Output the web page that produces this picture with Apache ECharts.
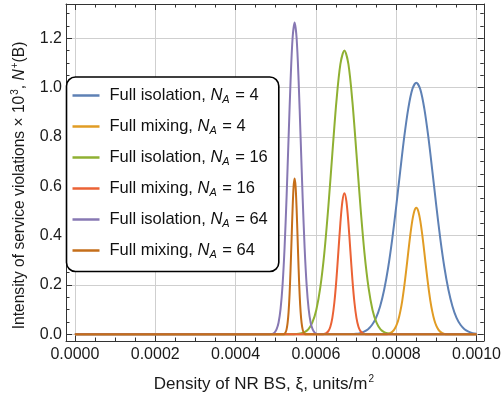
<!DOCTYPE html>
<html><head><meta charset="utf-8">
<script src="https://cdn.jsdelivr.net/npm/echarts@6/dist/echarts.min.js"></script>
<style>html,body{margin:0;padding:0;background:#fff}#c{width:504px;height:399px}</style>
</head><body><div id="c"></div>
<script>
// ---- data ----
const xTickLabels = ['0.0000', '0.0002', '0.0004', '0.0006', '0.0008', '0.0010'];
const yTickLabels = ['0.0', '0.2', '0.4', '0.6', '0.8', '1.0', '1.2'];

const legendModes = ['Full isolation', 'Full mixing', 'Full isolation', 'Full mixing', 'Full isolation', 'Full mixing'];
const legendNA = [4, 4, 16, 16, 64, 64];
const colors = ['#5E81B5', '#E19C24', '#8FB032', '#EB6235', '#8778B3', '#C56E1A'];

// Full isolation, N_A = 4
const iso4X = [0, 0.00069, 0.00070, 0.00071, 0.00072, 0.00073, 0.00074, 0.00075, 0.00076, 0.00077, 0.00078, 0.00079,
  0.00080, 0.00081, 0.00082, 0.00083, 0.00084, 0.00085, 0.00086, 0.00087, 0.00088, 0.00089, 0.00090,
  0.00091, 0.00092, 0.00093, 0.00094, 0.00095, 0.00096, 0.00097, 0.00098, 0.00099, 0.00100];
const iso4Y = [0, 0.001, 0.002, 0.005, 0.011, 0.021, 0.039, 0.068, 0.114, 0.181, 0.271, 0.385,
  0.519, 0.662, 0.800, 0.915, 0.993, 1.020, 0.993, 0.915, 0.800, 0.662, 0.519,
  0.385, 0.271, 0.181, 0.114, 0.068, 0.039, 0.021, 0.011, 0.005, 0.002];

// Full mixing, N_A = 4
const mix4X = [0, 0.000775, 0.00078, 0.000785, 0.00079, 0.000795, 0.00080, 0.000805, 0.00081, 0.000815, 0.00082, 0.000825,
  0.00083, 0.000835, 0.00084, 0.000845, 0.00085, 0.000855, 0.00086, 0.000865, 0.00087, 0.000875,
  0.00088, 0.000885, 0.00089, 0.000895, 0.00090, 0.000905, 0.00091, 0.000915, 0.00092, 0.000925, 0.00100];
const mix4Y = [0, 0, 0.002, 0.005, 0.010, 0.019, 0.034, 0.057, 0.091, 0.136, 0.194, 0.261,
  0.333, 0.402, 0.460, 0.499, 0.513, 0.499, 0.460, 0.402, 0.333, 0.261,
  0.194, 0.136, 0.091, 0.057, 0.034, 0.019, 0.010, 0.005, 0.002, 0, 0];

// Full isolation, N_A = 16
const iso16X = [0, 0.000541, 0.000551, 0.000561, 0.000571, 0.000581, 0.000591, 0.000601, 0.000611, 0.000621, 0.000631,
  0.000641, 0.000651, 0.000661, 0.000671, 0.000681, 0.000691, 0.000701, 0.000711, 0.000721,
  0.000731, 0.000741, 0.000751, 0.000761, 0.000771, 0.000781, 0.000791, 0.000801, 0.00100];
const iso16Y = [0, 0, 0.001, 0.003, 0.008, 0.020, 0.047, 0.099, 0.190, 0.329, 0.517,
  0.733, 0.942, 1.095, 1.151, 1.095, 0.942, 0.733, 0.517, 0.329,
  0.190, 0.099, 0.047, 0.020, 0.008, 0.003, 0.001, 0, 0];

// Full mixing, N_A = 16
const mix16X = [0, 0.000616, 0.000621, 0.000626, 0.000631, 0.000636, 0.000641, 0.000646, 0.000651, 0.000656, 0.000661,
  0.000666, 0.000671, 0.000676, 0.000681, 0.000686, 0.000691, 0.000696, 0.000701, 0.000706,
  0.000711, 0.000716, 0.000721, 0.000726, 0.00100];
const mix16Y = [0, 0, 0.002, 0.005, 0.013, 0.031, 0.067, 0.129, 0.221, 0.335, 0.451,
  0.539, 0.572, 0.539, 0.451, 0.335, 0.221, 0.129, 0.067, 0.031,
  0.013, 0.005, 0.002, 0, 0];

// Full isolation, N_A = 64
const iso64X = [0, 0.000482, 0.000487, 0.000492, 0.000497, 0.000502, 0.000507, 0.000512, 0.000517, 0.000522, 0.000527,
  0.000532, 0.000537, 0.000542, 0.000547, 0.000552, 0.000557, 0.000562, 0.000567, 0.000572,
  0.000577, 0.000582, 0.000587, 0.000592, 0.000597, 0.000602, 0.000607, 0.000612, 0.00100];
const iso64Y = [0, 0, 0.001, 0.002, 0.007, 0.020, 0.047, 0.102, 0.199, 0.350, 0.556,
  0.796, 1.029, 1.201, 1.264, 1.201, 1.029, 0.796, 0.556, 0.350,
  0.199, 0.102, 0.047, 0.020, 0.007, 0.002, 0.001, 0, 0];

// Full mixing, N_A = 64
const mix64X = [0, 0.0005195, 0.000522, 0.0005245, 0.000527, 0.0005295, 0.000532, 0.0005345, 0.000537, 0.0005395, 0.000542,
  0.0005445, 0.000547, 0.0005495, 0.000552, 0.0005545, 0.000557, 0.0005595, 0.000562, 0.0005645,
  0.000567, 0.0005695, 0.000572, 0.0005745, 0.00100];
const mix64Y = [0, 0, 0.003, 0.008, 0.020, 0.045, 0.090, 0.163, 0.266, 0.388, 0.509,
  0.599, 0.632, 0.599, 0.509, 0.388, 0.266, 0.163, 0.090, 0.045,
  0.020, 0.008, 0.003, 0, 0];

const seriesX = [iso4X, mix4X, iso16X, mix16X, iso64X, mix64X];
const seriesY = [iso4Y, mix4Y, iso16Y, mix16Y, iso64Y, mix64Y];

// ---- chart ----
const FONT = '"Liberation Sans", Arial, sans-serif';
const names = legendModes.map((m, i) => m + ', N_A = ' + legendNA[i]);
const frameColor = '#333';
const labelColor = '#1a1a1a';
const gridColor = '#cfcfcf';

function xAxisCfg(pos, main) {
  return {
    type: 'value', position: pos, gridIndex: 0,
    min: -0.0000222, max: 0.001018,
    splitNumber: 5, minInterval: 0.0002, maxInterval: 0.0002,
    axisLine: { show: true, onZero: false, lineStyle: { color: frameColor, width: 1 } },
    axisTick: { show: true, inside: true, length: 6, lineStyle: { color: frameColor, width: 1 } },
    minorTick: { show: true, splitNumber: 4, length: 3.5, lineStyle: { color: frameColor, width: 1 } },
    splitLine: { show: main, lineStyle: { color: gridColor, width: 1 } },
    minorSplitLine: { show: false },
    axisLabel: {
      show: main, margin: 6, showMinLabel: false, showMaxLabel: false,
      color: labelColor, fontSize: 16, fontFamily: FONT,
      formatter: v => { const i = Math.round(v / 0.0002); return xTickLabels[i] || ''; }
    },
    name: main ? 'Density of NR BS, ξ, units/m{sup|2}' : '',
    nameLocation: 'middle', nameGap: 33,
    nameTextStyle: {
      color: labelColor, fontSize: 17, fontFamily: FONT, lineHeight: 20, padding: [0, 22, 0, 0],
      rich: { sup: { fontSize: 10, lineHeight: 20, verticalAlign: 'top', padding: [0, 0, 9, 1], color: labelColor, fontFamily: FONT } }
    }
  };
}
function yAxisCfg(pos, main) {
  return {
    type: 'value', position: pos, gridIndex: 0,
    min: -0.027, max: 1.339,
    splitNumber: 7, minInterval: 0.2, maxInterval: 0.2,
    axisLine: { show: true, onZero: false, lineStyle: { color: frameColor, width: 1 } },
    axisTick: { show: true, inside: true, length: 6, lineStyle: { color: frameColor, width: 1 } },
    minorTick: { show: true, splitNumber: 4, length: 3.5, lineStyle: { color: frameColor, width: 1 } },
    splitLine: { show: main, lineStyle: { color: gridColor, width: 1 } },
    minorSplitLine: { show: false },
    axisLabel: {
      show: main, margin: 4, showMinLabel: false, showMaxLabel: false,
      color: labelColor, fontSize: 16, fontFamily: FONT,
      formatter: v => { const i = Math.round(v / 0.2); return yTickLabels[i] || ''; }
    },
    name: main ? 'Intensity of service violations × 10{sup|3}, {it|N}{sup|+}(B)' : '',
    nameLocation: 'middle', nameGap: 37,
    nameTextStyle: {
      color: labelColor, fontSize: 15.6, fontFamily: FONT, lineHeight: 19, padding: [0, 26, 0, 0],
      rich: {
        sup: { fontSize: 10, lineHeight: 19, verticalAlign: 'top', padding: [0, 0, 8, 1], color: labelColor, fontFamily: FONT },
        it: { fontSize: 15.6, fontStyle: 'italic', lineHeight: 19, color: labelColor, fontFamily: FONT }
      }
    }
  };
}

const chart = echarts.init(document.getElementById('c'), null, { renderer: 'canvas' });
chart.setOption({
  animation: false,
  backgroundColor: '#fff',
  grid: { left: 66, right: 16.7, top: 4, bottom: 57.3, containLabel: false },
  xAxis: [xAxisCfg('bottom', true), xAxisCfg('top', false)],
  yAxis: [yAxisCfg('left', true), yAxisCfg('right', false)],
  legend: {
    orient: 'vertical', left: 66.5, top: 77,
    padding: [10, 11, 11, 6], itemGap: 12.5,
    itemWidth: 27, itemHeight: 2.5, icon: 'rect',
    backgroundColor: '#fff', borderColor: '#000', borderWidth: 1.6, borderRadius: 9,
    data: names,
    formatter: name => {
      const i = names.indexOf(name);
      return '{t|' + legendModes[i] + ', }{i|N}{s|A}{t| = ' + legendNA[i] + '}';
    },
    textStyle: {
      padding: [0, 0, 0, 5],
      rich: {
        t: { fontSize: 16.5, lineHeight: 20, color: '#111', fontFamily: FONT },
        i: { fontSize: 16.5, lineHeight: 20, fontStyle: 'italic', color: '#111', fontFamily: FONT },
        s: { fontSize: 11, lineHeight: 10, fontStyle: 'italic', verticalAlign: 'bottom', padding: [0, 1, 0, 0], color: '#111', fontFamily: FONT }
      }
    }
  },
  series: seriesX.map((xs, k) => ({
    name: names[k], type: 'line', xAxisIndex: 0, yAxisIndex: 0,
    data: xs.map((x, i) => [x, seriesY[k][i]]),
    showSymbol: false, symbol: 'none', smooth: 0.3,
    color: colors[k],
    lineStyle: { color: colors[k], width: 2 },
    emphasis: { disabled: true }
  }))
});
</script></body></html>
